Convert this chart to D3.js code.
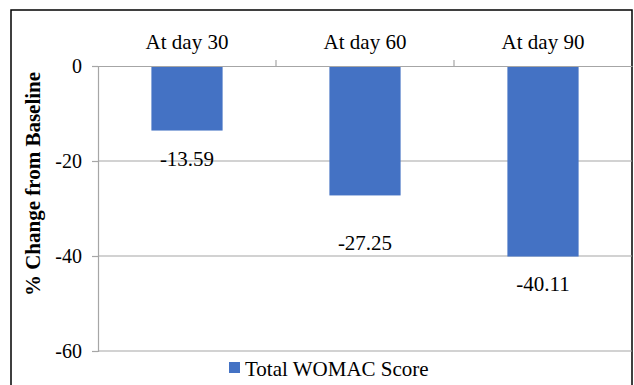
<!DOCTYPE html>
<html>
<head>
<meta charset="utf-8">
<script src="https://cdn.jsdelivr.net/npm/d3@7"></script>
</head>
<body style="margin:0">
<script>
// data
const categories = ["At day 30", "At day 60", "At day 90"];
const values = [-13.59, -27.25, -40.11];
const valueLabels = ["-13.59", "-27.25", "-40.11"];
const yTicks = [0, -20, -40, -60];
const seriesName = "Total WOMAC Score";
const yTitle = "% Change from Baseline";

// label nudges below bar end (px)
const labelNudge = [28, 47, 27];

const serif = '"Liberation Serif"';
const W = 634, H = 385;
const margin = {top: 66, right: 2, left: 98};
const width = W - margin.left - margin.right,
  height = 351 - margin.top;

const svg = d3.select("body")
  .append("svg")
  .attr("width", W)
  .attr("height", H)
  .style("font-family", serif);

// outer frame
svg.append("rect")
  .attr("x", 11).attr("y", 10)
  .attr("width", 621).attr("height", 400)
  .attr("fill", "none")
  .attr("stroke", "#000")
  .attr("stroke-width", 1.5);

const g = svg.append("g")
  .attr("transform", `translate(${margin.left}, ${margin.top})`);

const x = d3.scaleBand()
  .domain(categories)
  .range([0, width])
  .padding(0);

const y = d3.scaleLinear()
  .domain([0, -60])
  .range([0, height]);

// gridlines
g.selectAll(".grid")
  .data(yTicks.filter(d => d !== 0))
  .join("line")
  .attr("x1", 0).attr("x2", width)
  .attr("y1", d => y(d)).attr("y2", d => y(d))
  .attr("stroke", "#a6a6a6")
  .attr("stroke-width", 1.2);

// y axis
const yAxis = g.append("g")
  .call(d3.axisLeft(y).tickValues(yTicks).tickSize(6).tickPadding(10).tickFormat(d => String(d)));
yAxis.select(".domain").attr("stroke", "#a6a6a6").attr("stroke-width", 1.2);
yAxis.selectAll(".tick line").attr("stroke", "#a6a6a6").attr("stroke-width", 1.2);
yAxis.selectAll(".tick text")
  .style("font-family", serif)
  .style("font-size", "20px")
  .attr("fill", "#000");

// bars
g.selectAll(".bar")
  .data(values)
  .join("rect")
  .attr("x", (d, i) => x(categories[i]) + x.bandwidth() * 0.3)
  .attr("width", x.bandwidth() * 0.4)
  .attr("y", y(0))
  .attr("height", d => y(d) - y(0))
  .attr("fill", "#4472C4");

// category axis at zero
const xAxis = g.append("g")
  .call(d3.axisTop(x).tickSize(0).tickPadding(17));
xAxis.select(".domain").attr("stroke", "#a6a6a6").attr("stroke-width", 1.2);
xAxis.selectAll(".tick text")
  .style("font-family", serif)
  .style("font-size", "21px")
  .attr("fill", "#000");

// category separators
g.selectAll(".sep")
  .data(categories.slice(1))
  .join("line")
  .attr("x1", d => x(d)).attr("x2", d => x(d))
  .attr("y1", -6).attr("y2", 0)
  .attr("stroke", "#a6a6a6")
  .attr("stroke-width", 1.2);

// value labels
g.selectAll(".lbl")
  .data(values)
  .join("text")
  .attr("x", (d, i) => x(categories[i]) + x.bandwidth() / 2)
  .attr("y", (d, i) => y(d) + labelNudge[i])
  .attr("dy", "0.35em")
  .attr("text-anchor", "middle")
  .style("font-family", serif)
  .style("font-size", "21px")
  .text((d, i) => valueLabels[i]);

// y title
svg.append("text")
  .attr("transform", "translate(40, 184) rotate(-90)")
  .attr("text-anchor", "middle")
  .style("font-family", serif)
  .style("font-size", "21px")
  .style("font-weight", "bold")
  .text(yTitle);

// legend
const legend = svg.append("g").attr("transform", "translate(229, 362)");
legend.append("rect")
  .attr("width", 11).attr("height", 11)
  .attr("fill", "#4472C4");
legend.append("text")
  .attr("x", 16).attr("y", 14)
  .style("font-family", serif)
  .style("font-size", "21px")
  .text(seriesName);
</script>
</body>
</html>
